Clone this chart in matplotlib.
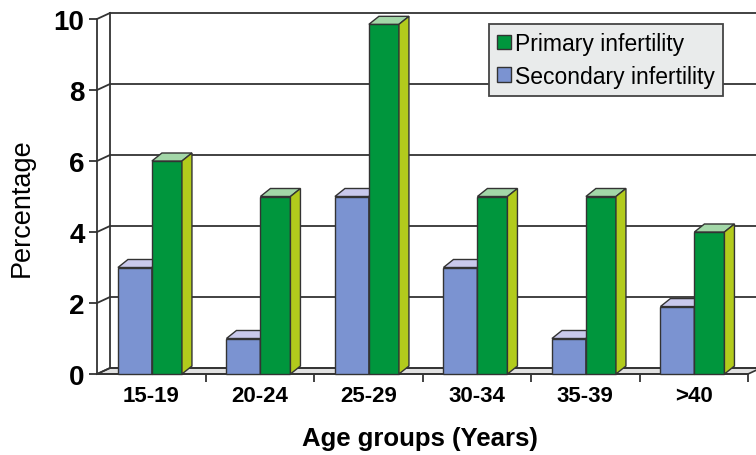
import matplotlib
matplotlib.use("Agg")
import matplotlib.pyplot as plt
from matplotlib.patches import Polygon, Patch

# data
age_groups = ["15-19", "20-24", "25-29", "30-34", "35-39", ">40"]
primary = [6, 5, 9.85, 5, 5, 4]
secondary = [3, 1, 5, 3, 1, 1.9]

# colours
blue_front = "#7b93d1"
blue_top = "#c9c9ec"
green_front = "#00963d"
green_top = "#a3d7a8"
green_side = "#b2cb1c"
edge = "#333333"

plt.rcParams["font.family"] = ["Liberation Sans", "DejaVu Sans"]

W, H, DPI = 756, 456, 100
fig = plt.figure(figsize=(W / DPI, H / DPI), dpi=DPI)
ax_l, ax_r, ax_t, ax_b = 97, 748, 20, 375   # axes box in pixels
ax = fig.add_axes([ax_l / W, (H - ax_b) / H, (ax_r - ax_l) / W, (ax_b - ax_t) / H])
n = len(age_groups)
ax.set_xlim(0, n)
ax.set_ylim(0, 10)

# pixel offsets -> data units (pseudo 3d depth)
ux = (ax_r - ax_l) / n
uy = (ax_b - ax_t) / 10
wall_dx, wall_dy = 13 / ux, 6 / uy
bar_dx, bar_dy = 10 / ux, 8 / uy

def poly(pts, fc, z, lw=1.0):
    ax.add_patch(Polygon(pts, closed=True, facecolor=fc, edgecolor=edge,
                         linewidth=lw, zorder=z, clip_on=False))

# floor
poly([(0, 0), (n, 0), (n + wall_dx, wall_dy), (wall_dx, wall_dy)], "#e1e1e1", 1, 1.2)

# back wall grid + side wall
for v in range(0, 11, 2):
    ax.plot([wall_dx, n + wall_dx + 1], [v + wall_dy, v + wall_dy], color=edge,
            lw=1.3, zorder=1.5, clip_on=False)
    ax.plot([0, wall_dx], [v, v + wall_dy], color=edge, lw=1.3, zorder=1.5, clip_on=False)
ax.plot([wall_dx, wall_dx], [wall_dy, 10 + wall_dy], color=edge, lw=1.3, zorder=1.5,
        clip_on=False)

def bar3d(x0, w, h, front, top, side, z):
    x1 = x0 + w
    poly([(x0, 0), (x1, 0), (x1, h), (x0, h)], front, z)
    poly([(x0, h), (x1, h), (x1 + bar_dx, h + bar_dy), (x0 + bar_dx, h + bar_dy)], top, z)
    poly([(x1, 0), (x1 + bar_dx, bar_dy), (x1 + bar_dx, h + bar_dy), (x1, h)], side, z)

bw_blue, bw_green = 0.313, 0.277
for i in range(n):
    x0 = i + 0.193
    bar3d(x0, bw_blue, secondary[i], blue_front, blue_top, blue_front, 3 + i)
    bar3d(x0 + bw_blue, bw_green, primary[i], green_front, green_top, green_side, 3.5 + i)

# axes lines and ticks
for s in ["top", "right"]:
    ax.spines[s].set_visible(False)
for s in ["left", "bottom"]:
    ax.spines[s].set_color(edge)
    ax.spines[s].set_linewidth(1.3)
    ax.spines[s].set_zorder(2)
ax.patch.set_visible(False)

ax.set_yticks(range(0, 11, 2))
ax.tick_params(axis="y", length=6, width=1.3, color=edge, pad=3, labelsize=20)
for lab in ax.get_yticklabels():
    lab.set_fontweight("bold")

ax.set_xticks(range(1, n + 1))
ax.set_xticklabels([])
ax.tick_params(axis="x", which="major", length=6, width=1.3, color=edge)
ax.set_xticks([i + 0.5 for i in range(n)], minor=True)
ax.set_xticklabels(age_groups, minor=True, fontsize=16, fontweight="bold")
ax.tick_params(axis="x", which="minor", length=0, pad=8)

ax.set_xlabel("Age groups (Years)", fontsize=18.5, fontweight="bold")
ax.xaxis.set_label_coords((420 - ax_l) / (ax_r - ax_l), -(427 - ax_b) / (ax_b - ax_t))
ax.set_ylabel("Percentage", fontsize=19.5)
ax.yaxis.set_label_coords(-(ax_l - 35) / (ax_r - ax_l), (ax_b - 208) / (ax_b - ax_t))

handles = [Patch(facecolor=green_front, edgecolor=edge, label="Primary infertility"),
           Patch(facecolor=blue_front, edgecolor=edge, label="Secondary infertility")]
leg = fig.legend(handles=handles, loc="upper left", bbox_to_anchor=(489 / W, 1 - 25 / H),
                 fontsize=16.5, frameon=True, fancybox=False, framealpha=1,
                 facecolor="#e9ebeb", edgecolor="#444444", handlelength=0.6,
                 handleheight=0.6, handletextpad=0.2, labelspacing=0.42,
                 borderpad=0.35, borderaxespad=0)
leg.get_frame().set_linewidth(1.3)
leg.set_zorder(20)

fig.savefig("out.png", dpi=DPI)
